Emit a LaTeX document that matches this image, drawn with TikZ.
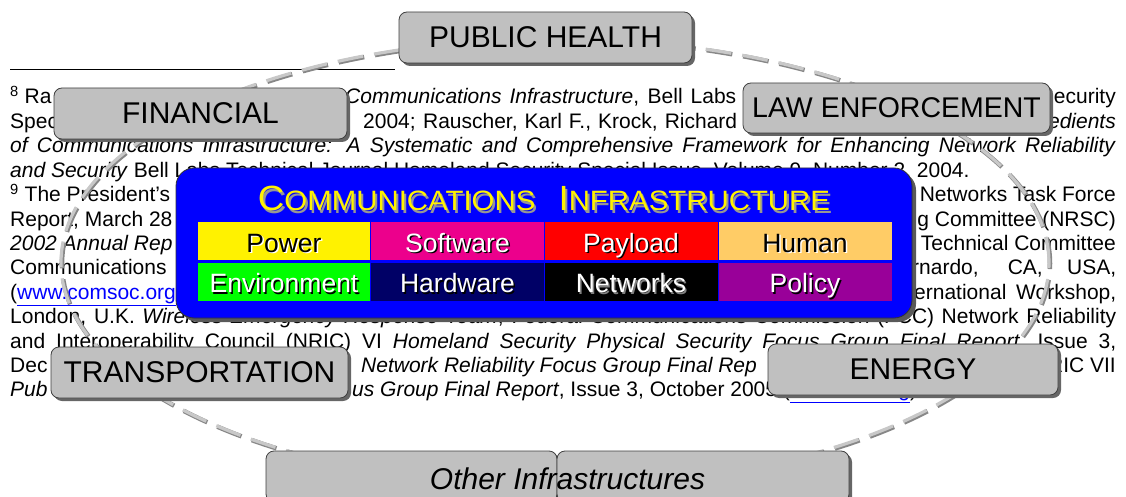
\documentclass[tikz,border=0pt]{standalone}
\usepackage{fontspec}
\usepackage{graphicx}
\setmainfont{Liberation Sans}
\usetikzlibrary{shadows}

\definecolor{silver}{RGB}{192,192,192}
\definecolor{ringlight}{RGB}{200,200,200}
\definecolor{ringdark}{RGB}{135,135,135}
\definecolor{humancol}{RGB}{255,204,102}
\definecolor{hardcol}{RGB}{0,0,102}
\definecolor{policycol}{RGB}{153,0,153}
\definecolor{linkblue}{RGB}{0,0,255}
\definecolor{titleshade}{RGB}{150,150,150}

\newcommand\fnsize{\fontsize{21}{24}\selectfont}
\newcommand\boxsize{\fontsize{30}{36}\selectfont}
\newcommand\cellsize{\fontsize{26.5}{30}\selectfont}
\newcommand\weblink[1]{{\color{linkblue}\underline{#1}}}
\newcommand\shadtxt[4][1.5pt]{\makebox[0pt][l]{\hspace*{#1}\raisebox{-#1}{\color{#2}#4}}{\color{#3}#4}}

\begin{document}
\begin{tikzpicture}[
    x=1pt, y=-1pt,
    fn/.style={anchor=base west, inner sep=0pt, font=\fnsize},
    fnr/.style={fn, anchor=base east},
    sector/.style={draw=black!75, fill=silver, line width=0.8pt, rounded corners=8pt,
      inner sep=0pt, font=\boxsize,
      drop shadow={shadow xshift=3pt, shadow yshift=-3pt, fill=black!60, opacity=1}},
    cell/.style={draw=blue, line width=0.8pt, minimum width=174pt, minimum height=39pt,
      inner sep=0pt, text height=22pt, text depth=0pt, font=\cellsize},
    ringshadow/.style={draw=ringdark, line width=4.5pt, dash pattern=on 26pt off 11pt,
      xshift=1pt, yshift=-1pt},
    ringdash/.style={draw=ringlight, line width=3.2pt, dash pattern=on 26pt off 11pt}
  ]
  \useasboundingbox (0,0) rectangle (1126,497);
  \clip (0,0) rectangle (1126,497);

  \draw[line width=1.2pt] (10,69.5) -- (395,69.5);
  \node[fn] (fn1a) at (10,104) {\textsuperscript{8} Ra};
  \node[fn] (fn1b) at (345,104) {\makebox[391pt][s]{\textit{Communications Infrastructure}, Bell Labs}};
  \node[fnr] (fn1c) at (1116,104) {Security};
  \node[fn] (fn2a) at (10,128.4) {Spec};
  \node[fn] (fn2b) at (363,128.4) {\makebox[374pt][s]{2004; Rauscher, Karl F., Krock, Richard}};
  \node[fnr] (fn2c) at (1116,128.4) {\textit{edients}};
  \node[fn] (fn3) at (10,152.8) {\makebox[1106pt][s]{\textit{of Communications Infrastructure: A Systematic and Comprehensive Framework for Enhancing Network Reliability}}};
  \node[fn] (fn4) at (10,177.2) {\textit{and Security} Bell Labs Technical Journal Homeland Security Special Issue, Volume 9, Number 2, 2004.};
  \node[fn] (fn5a) at (10,201.6) {\textsuperscript{9} The President's};
  \node[fnr] (fn5b) at (1116,201.6) {Networks Task Force};
  \node[fn] (fn6a) at (10,226) {Report, March 28};
  \node[fnr] (fn6b) at (1116,226) {g Committee (NRSC)};
  \node[fn] (fn7a) at (10,250.4) {\textit{2002 Annual Rep}};
  \node[fnr] (fn7b) at (1116,250.4) {Technical Committee};
  \node[fn] (fn8a) at (10,274.8) {Communications};
  \node[fn] (fn8b) at (912,274.8) {\makebox[204pt][s]{rnardo, CA, USA,}};
  \node[fn] (fn9a) at (10,299.2) {(\weblink{www.comsoc.org}};
  \node[fn] (fn9b) at (914,299.2) {\makebox[202pt][s]{ernational Workshop,}};
  \node[fn] (fn10) at (10,323.6) {\makebox[1106pt][s]{London, U.K. \textit{Wireless Emergency Response Team}, Federal Communications Commission (FCC) Network Reliability}};
  \node[fn] (fn11) at (10,348) {\makebox[1106pt][s]{and Interoperability Council (NRIC) VI \textit{Homeland Security Physical Security Focus Group Final Report}, Issue 3,}};
  \node[fn] (fn12a) at (10,372.4) {Dec};
  \node[fn] (fn12b) at (361,372.4) {\textit{Network Reliability Focus Group Final Rep}};
  \node[fnr] (fn12c) at (1116,372.4) {RIC VII};
  \node[fn] (fn13a) at (10,396.8) {\textit{Pub}};
  \node[fn] (fn13b) at (352,396.8) {\textit{us Group Final Report}, Issue 3, October 2005 (\weblink{www.nric.org}).};

  \draw[ringshadow] (555,262.6) ellipse [x radius=494pt, y radius=224pt];
  \draw[ringdash] (555,262.6) ellipse [x radius=494pt, y radius=224pt];

  \node[sector, minimum width=293pt, minimum height=51pt] (health) at (545.5,37.5) {PUBLIC HEALTH};
  \node[sector, minimum width=293pt, minimum height=51pt] (financial) at (200.5,113.5) {FINANCIAL};
  \node[sector, minimum width=307pt, minimum height=50pt, font=\fontsize{28.5}{34}\selectfont] (law) at (896.5,108) {LAW ENFORCEMENT};
  \node[sector, minimum width=297pt, minimum height=51pt] (transport) at (199.5,372.5) {TRANSPORTATION};
  \node[sector, minimum width=290pt, minimum height=51pt] (energy) at (913,369.5) {ENERGY};
  \node[sector, minimum width=291pt, minimum height=51pt] (otherL) at (411.5,476.5) {};
  \node[sector, minimum width=292pt, minimum height=51pt] (otherR) at (703,476.5) {};
  \node[anchor=base, inner sep=0pt, font=\boxsize\itshape] (other) at (567.5,489) {Other Infrastructures};

  \node[draw=black!80, fill=blue, line width=0.8pt, rounded corners=18pt,
    minimum width=736pt, minimum height=150pt,
    drop shadow={shadow xshift=4pt, shadow yshift=-4pt, fill=black!65, opacity=1}] (comms) at (544,243) {};
  \node[anchor=base, inner sep=0pt] (title) at (544,211)
    {\scalebox{1.05}[1]{\shadtxt[2pt]{titleshade}{yellow}{\fontsize{35}{38}\selectfont C\fontsize{28}{32}\selectfont OMMUNICATIONS}\hspace{22pt}\shadtxt[2pt]{titleshade}{yellow}{\fontsize{35}{38}\selectfont I\fontsize{28}{32}\selectfont NFRASTRUCTURE}}};

  \node[cell, fill=yellow] (power) at (284,241) {\shadtxt{white}{black}{Power}};
  \node[cell, fill=magenta] (software) at (457.5,241) {\shadtxt{black}{white}{Software}};
  \node[cell, fill=red] (payload) at (631,241) {\shadtxt{black}{white}{Payload}};
  \node[cell, fill=humancol] (human) at (805,241) {\shadtxt{white}{black}{Human}};
  \node[cell, fill=green] (environment) at (284,281.5) {\shadtxt{black}{white}{Environment}};
  \node[cell, fill=hardcol] (hardware) at (457.5,281.5) {\shadtxt{black}{white}{Hardware}};
  \node[cell, fill=black] (networks) at (631,281.5) {\shadtxt{gray}{white}{Networks}};
  \node[cell, fill=policycol] (policy) at (805,281.5) {\shadtxt{black}{white}{Policy}};
\end{tikzpicture}
\end{document}
